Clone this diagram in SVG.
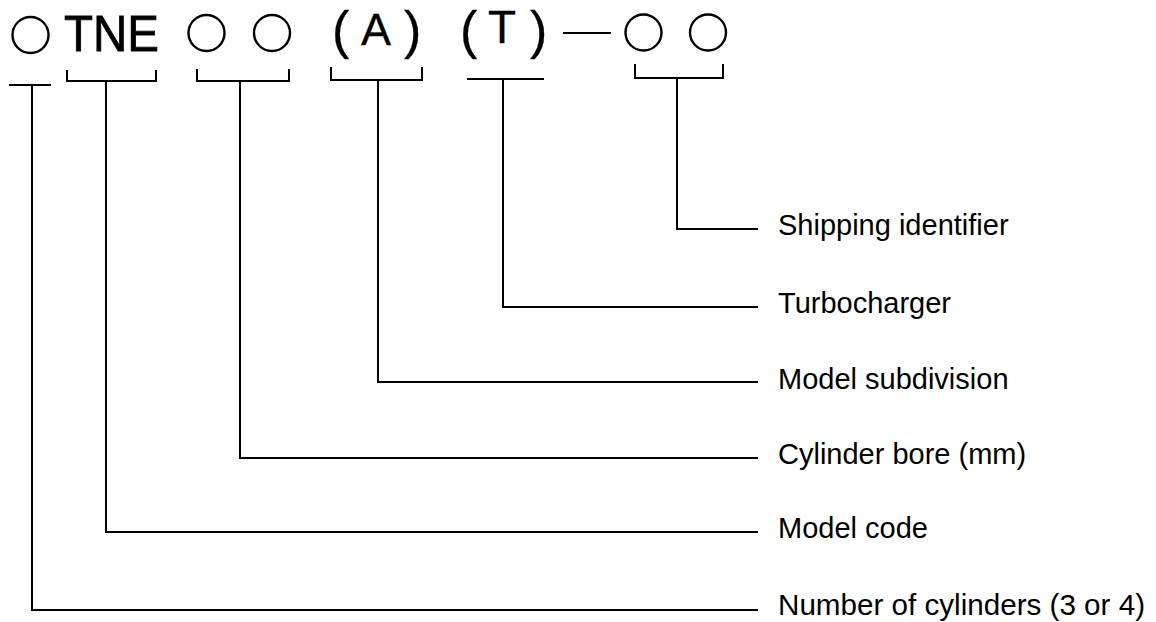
<svg xmlns="http://www.w3.org/2000/svg" width="1156" height="622" viewBox="0 0 1156 622">
<style>
.ln{stroke:#000;stroke-width:2;fill:none;stroke-linecap:square}
.ci{stroke:#000;stroke-width:2.4;fill:none}
.code{font-family:"Liberation Sans",Arial,sans-serif;fill:#000;stroke:#000;stroke-width:0.8}
.thin{font-family:"Liberation Sans",Arial,sans-serif;fill:#000;stroke:#000;stroke-width:0.3}
.lbl{font-family:"Liberation Sans",Arial,sans-serif;font-size:29px;fill:#000}
</style>
<rect width="1156" height="622" fill="#fff"/>
<g id="code">
<circle class="ci" cx="30.5" cy="35" r="18"/>
<text class="code" x="64" y="51" font-size="50" textLength="95" lengthAdjust="spacingAndGlyphs">TNE</text>
<circle class="ci" cx="206.5" cy="33" r="18"/>
<circle class="ci" cx="272" cy="33" r="18"/>
<text class="thin" x="332" y="48" font-size="52">(</text>
<text class="thin" x="361" y="45" font-size="45">A</text>
<text class="thin" x="404" y="48" font-size="52">)</text>
<text class="thin" x="460" y="48" font-size="52">(</text>
<text class="thin" x="488" y="43" font-size="46">T</text>
<text class="thin" x="530" y="48" font-size="52">)</text>
<line class="ln" x1="564" y1="33" x2="610" y2="33" stroke-width="2.6"/>
<circle class="ci" cx="643.5" cy="32.5" r="18"/>
<circle class="ci" cx="708" cy="32.5" r="18"/>
</g>
<g id="connectors">
<path class="ln" d="M10 85H50M32 85V610H757"/>
<path class="ln" d="M67 71V81H156V71M106 81V532H757"/>
<path class="ln" d="M197 70V81H289V70M240 81V458H757"/>
<path class="ln" d="M331 68V80H422V68M378 80V382H757"/>
<path class="ln" d="M468 79H543M503 79V307H757"/>
<path class="ln" d="M635 65V78H723V65M677 78V229H757"/>
</g>
<g id="labels">
<text class="lbl" x="778" y="235">Shipping identifier</text>
<text class="lbl" x="778" y="313">Turbocharger</text>
<text class="lbl" x="778" y="389">Model subdivision</text>
<text class="lbl" x="778" y="464">Cylinder bore (mm)</text>
<text class="lbl" x="778" y="538">Model code</text>
<text class="lbl" x="778" y="615" textLength="367" lengthAdjust="spacingAndGlyphs">Number of cylinders (3 or 4)</text>
</g>
</svg>
